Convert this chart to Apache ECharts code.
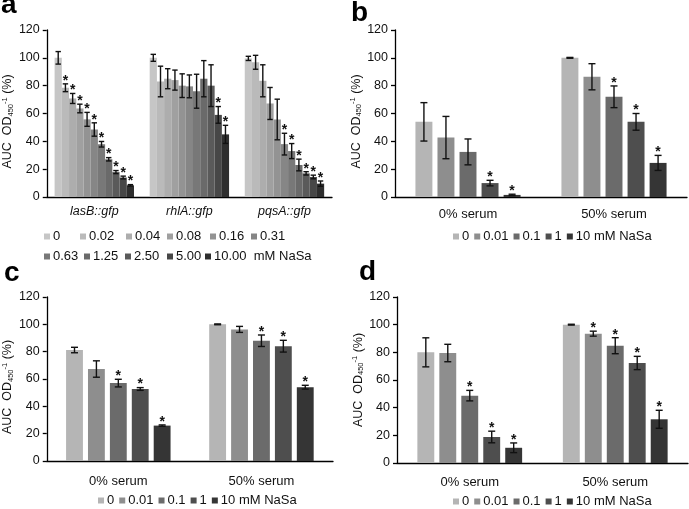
<!DOCTYPE html>
<html>
<head>
<meta charset="utf-8">
<script src="https://cdn.jsdelivr.net/npm/echarts@6/dist/echarts.min.js"></script>
<style>
  html, body { margin: 0; padding: 0; background: #fff; }
  #chart { width: 689px; height: 509px; }
</style>
</head>
<body>
<div id="chart"></div>
<script>
// ---- panel a: reporters vs NaSa (mM) ----
const genesA = ['lasB::gfp', 'rhlA::gfp', 'pqsA::gfp'];
const concA = ['0', '0.02', '0.04', '0.08', '0.16', '0.31', '0.63', '1.25', '2.50', '5.00', '10.00'];
const lasB = [100, 78.5, 70.8, 63.6, 55.8, 48.5, 37.9, 27.1, 17.9, 14, 8.4];
const lasBErr = [4.5, 2.8, 3.6, 3.1, 5, 4.8, 2, 1.2, 1.1, 1, 0.5];
const lasBSig = [0, 1, 1, 1, 1, 1, 1, 1, 1, 1, 1];
const rhlA = [100, 83, 85, 84, 80, 79.5, 76, 85, 80, 59, 45];
const rhlAErr = [2.5, 11, 7.2, 7.2, 8.5, 8.2, 12.2, 13, 15, 6, 6.5];
const rhlASig = [0, 0, 0, 0, 0, 0, 0, 0, 0, 1, 1];
const pqsA = [99.6, 96.8, 83.5, 67.2, 55.7, 38, 33, 23, 17, 14.4, 9.6];
const pqsAErr = [1.5, 5, 11.5, 11.5, 14.6, 7.8, 5.4, 4.2, 1.2, 1.3, 1.9];
const pqsASig = [0, 0, 0, 0, 0, 1, 1, 1, 1, 1, 1];

// ---- panels b, c, d: 0% vs 50% serum ----
const serum = ['0% serum', '50% serum'];
const concB = ['0', '0.01', '0.1', '1', '10'];
const b0 = [54, 42.7, 32.4, 10, 1.5];
const b0Err = [13.8, 15.2, 9.3, 2, 0.5];
const b0Sig = [0, 0, 0, 1, 1];
const b50 = [100, 86.4, 72, 54, 24.5];
const b50Err = [0.3, 9.4, 7.8, 6, 5.4];
const b50Sig = [0, 0, 1, 1, 1];
const c0 = [81.2, 67.3, 57, 52.7, 25.9];
const c0Err = [2, 6, 2.8, 1, 0.5];
const c0Sig = [0, 0, 1, 1, 1];
const c50 = [100, 96.3, 88, 84, 54];
const c50Err = [0.3, 2.2, 4.2, 4.3, 1.4];
const c50Sig = [0, 0, 1, 1, 1];
const d0 = [80, 79.5, 48.7, 18.8, 11];
const d0Err = [10.5, 6.3, 3.8, 4.2, 3.5];
const d0Sig = [0, 0, 1, 1, 1];
const d50 = [100, 93.5, 84.8, 72.3, 31.6];
const d50Err = [0.3, 1.8, 5.8, 4.8, 6.5];
const d50Sig = [0, 1, 1, 1, 1];

const yTicks = [0, 20, 40, 60, 80, 100, 120];

const font = '"Liberation Sans", Arial, sans-serif';
const shadesA = ['#c6c6c6', '#bababa', '#adadad', '#a0a0a0', '#939393', '#868686',
  '#787878', '#6a6a6a', '#5a5a5a', '#474747', '#2e2e2e'];
const shadesB = ['#b5b5b5', '#8e8e8e', '#6b6b6b', '#4e4e4e', '#353535'];

const panels = [
  { id: 'a', grid: { left: 42, top: 30, width: 290, height: 167 }, cats: genesA, conc: concA, colors: shadesA,
    means: [lasB, rhlA, pqsA], errs: [lasBErr, rhlAErr, pqsAErr], sigs: [lasBSig, rhlASig, pqsASig],
    catGap: 0.165, barGap: 0, cap: 2.7, italic: true, labelMargin: 8, nameGap: 28, unit: '  mM NaSa' },
  { id: 'b', grid: { left: 395, top: 30, width: 292, height: 167 }, cats: serum, conc: concB, colors: shadesB,
    means: [b0, b50], errs: [b0Err, b50Err], sigs: [b0Sig, b50Sig],
    catGap: 0.28, barGap: 0.3, cap: 3.5, labelMargin: 11, nameGap: 28, unit: ' mM NaSa' },
  { id: 'c', grid: { left: 43, top: 297, width: 290, height: 164 }, cats: serum, conc: concB, colors: shadesB,
    means: [c0, c50], errs: [c0Err, c50Err], sigs: [c0Sig, c50Sig],
    catGap: 0.27, barGap: 0.3, cap: 3.5, labelMargin: 14, nameGap: 28, unit: ' mM NaSa' },
  { id: 'd', grid: { left: 397, top: 297, width: 291, height: 166 }, cats: serum, conc: concB, colors: shadesB,
    means: [d0, d50], errs: [d0Err, d50Err], sigs: [d0Sig, d50Sig],
    catGap: 0.28, barGap: 0.3, cap: 3.5, labelMargin: 13, nameGap: 26, unit: ' mM NaSa' }
];

const labelMap = {};
const grids = [], xAxes = [], yAxes = [], series = [];

// error bars + asterisks, placed on the same slots as the bars
function makeRender(p) {
  const n = p.conc.length;
  return function (params, api) {
    const cat = api.value(0), k = api.value(1), m = api.value(2), e = api.value(3), s = api.value(4);
    const band = api.size([1, 0])[0];
    const w = band * (1 - p.catGap) / (n + (n - 1) * p.barGap);
    const total = w * n + w * p.barGap * (n - 1);
    const cx = api.coord([cat, 0])[0] - total / 2 + k * w * (1 + p.barGap) + w / 2;
    const yt = api.coord([cat, m + e])[1];
    const yb = api.coord([cat, Math.max(m - e, 0)])[1];
    const st = { stroke: '#111', lineWidth: 1.4 };
    const kids = [
      { type: 'line', shape: { x1: cx, y1: yt, x2: cx, y2: yb }, style: st },
      { type: 'line', shape: { x1: cx - p.cap, y1: yt, x2: cx + p.cap, y2: yt }, style: st },
      { type: 'line', shape: { x1: cx - p.cap, y1: yb, x2: cx + p.cap, y2: yb }, style: st }
    ];
    if (s) {
      kids.push({ type: 'text', style: { text: '*', x: cx, y: yt - 3, align: 'center', verticalAlign: 'middle',
        font: 'bold 14px ' + font, fill: '#111' } });
    }
    return { type: 'group', children: kids };
  };
}

panels.forEach(function (p, pi) {
  grids.push(p.grid);
  xAxes.push({
    gridIndex: pi, type: 'category', data: p.cats,
    axisLine: { lineStyle: { color: '#000', width: 1.3 } },
    axisTick: { length: 4, lineStyle: { color: '#000', width: 1.3 } },
    axisLabel: { margin: p.labelMargin, fontSize: p.italic ? 12.5 : 13, color: '#111', fontFamily: font,
      fontStyle: p.italic ? 'italic' : 'normal' }
  });
  yAxes.push({
    gridIndex: pi, type: 'value', min: yTicks[0], max: yTicks[yTicks.length - 1], interval: yTicks[1] - yTicks[0],
    splitLine: { show: false },
    axisLine: { show: true, lineStyle: { color: '#000', width: 1.3 } },
    axisTick: { show: true, length: 4, lineStyle: { color: '#000', width: 1.3 } },
    axisLabel: { fontSize: 12.5, color: '#111', fontFamily: font, margin: 7 },
    name: '{t|AUC  OD}{sub|450}{sup|-1}{t| (%)}',
    nameLocation: 'middle', nameGap: p.nameGap,
    nameTextStyle: {
      padding: [0, p.id === 'd' ? 0 : 16, 0, 0],
      rich: {
        t: { fontSize: 12.5, color: '#111', fontFamily: font, lineHeight: 14 },
        sub: { fontSize: 7.5, color: '#111', fontFamily: font, lineHeight: 14, verticalAlign: 'bottom' },
        sup: { fontSize: 7.5, color: '#111', fontFamily: font, lineHeight: 14, verticalAlign: 'top' }
      }
    }
  });
  p.conc.forEach(function (c, k) {
    const name = p.id + ':' + c;
    labelMap[name] = k === p.conc.length - 1 ? c + p.unit : c;
    series.push({
      type: 'bar', name: name, xAxisIndex: pi, yAxisIndex: pi,
      data: p.means.map(function (arr) { return arr[k]; }),
      itemStyle: { color: p.colors[k] },
      barGap: (p.barGap * 100) + '%', barCategoryGap: (p.catGap * 100) + '%',
      silent: true
    });
  });
  const ebData = [];
  p.cats.forEach(function (c, ci) {
    p.conc.forEach(function (_, k) {
      ebData.push([ci, k, p.means[ci][k], p.errs[ci][k], p.sigs[ci][k]]);
    });
  });
  series.push({
    type: 'custom', xAxisIndex: pi, yAxisIndex: pi, renderItem: makeRender(p),
    data: ebData, encode: { x: 0, y: 2 }, z: 5, silent: true
  });
});

function legendFor(names, left, top, gap) {
  return {
    data: names, left: left, top: top, orient: 'horizontal', padding: 0,
    itemWidth: 6, itemHeight: 6, itemGap: gap, icon: 'rect', selectedMode: false,
    formatter: function (n) { return labelMap[n]; },
    textStyle: { fontSize: 13, color: '#111', fontFamily: font, padding: [0, 0, 0, -2] }
  };
}

// panel a legend sits in fixed slots, two rows
const slotsA = [44, 80, 126, 167, 210, 251, 44, 84, 125, 167, 205];
const legends = concA.map(function (c, k) {
  return legendFor(['a:' + c], slotsA[k], k < 6 ? 230 : 250, 0);
});
legends.push(
  legendFor(concB.map(function (c) { return 'b:' + c; }), 453, 230, 5),
  legendFor(concB.map(function (c) { return 'c:' + c; }), 98, 494, 5),
  legendFor(concB.map(function (c) { return 'd:' + c; }), 453, 495, 5)
);

function panelLabel(t, x, y) {
  return { type: 'text', x: x, y: y, style: { text: t, font: 'bold 28px ' + font, fill: '#000',
    verticalAlign: 'top' } };
}

const chart = echarts.init(document.getElementById('chart'));
chart.setOption({
  animation: false,
  backgroundColor: '#fff',
  grid: grids,
  xAxis: xAxes,
  yAxis: yAxes,
  legend: legends,
  series: series,
  graphic: [
    panelLabel('a', 1, -9),
    panelLabel('b', 351, -1),
    panelLabel('c', 4, 259),
    panelLabel('d', 359, 258)
  ]
});
window.addEventListener('resize', function () { chart.resize(); });
</script>
</body>
</html>
